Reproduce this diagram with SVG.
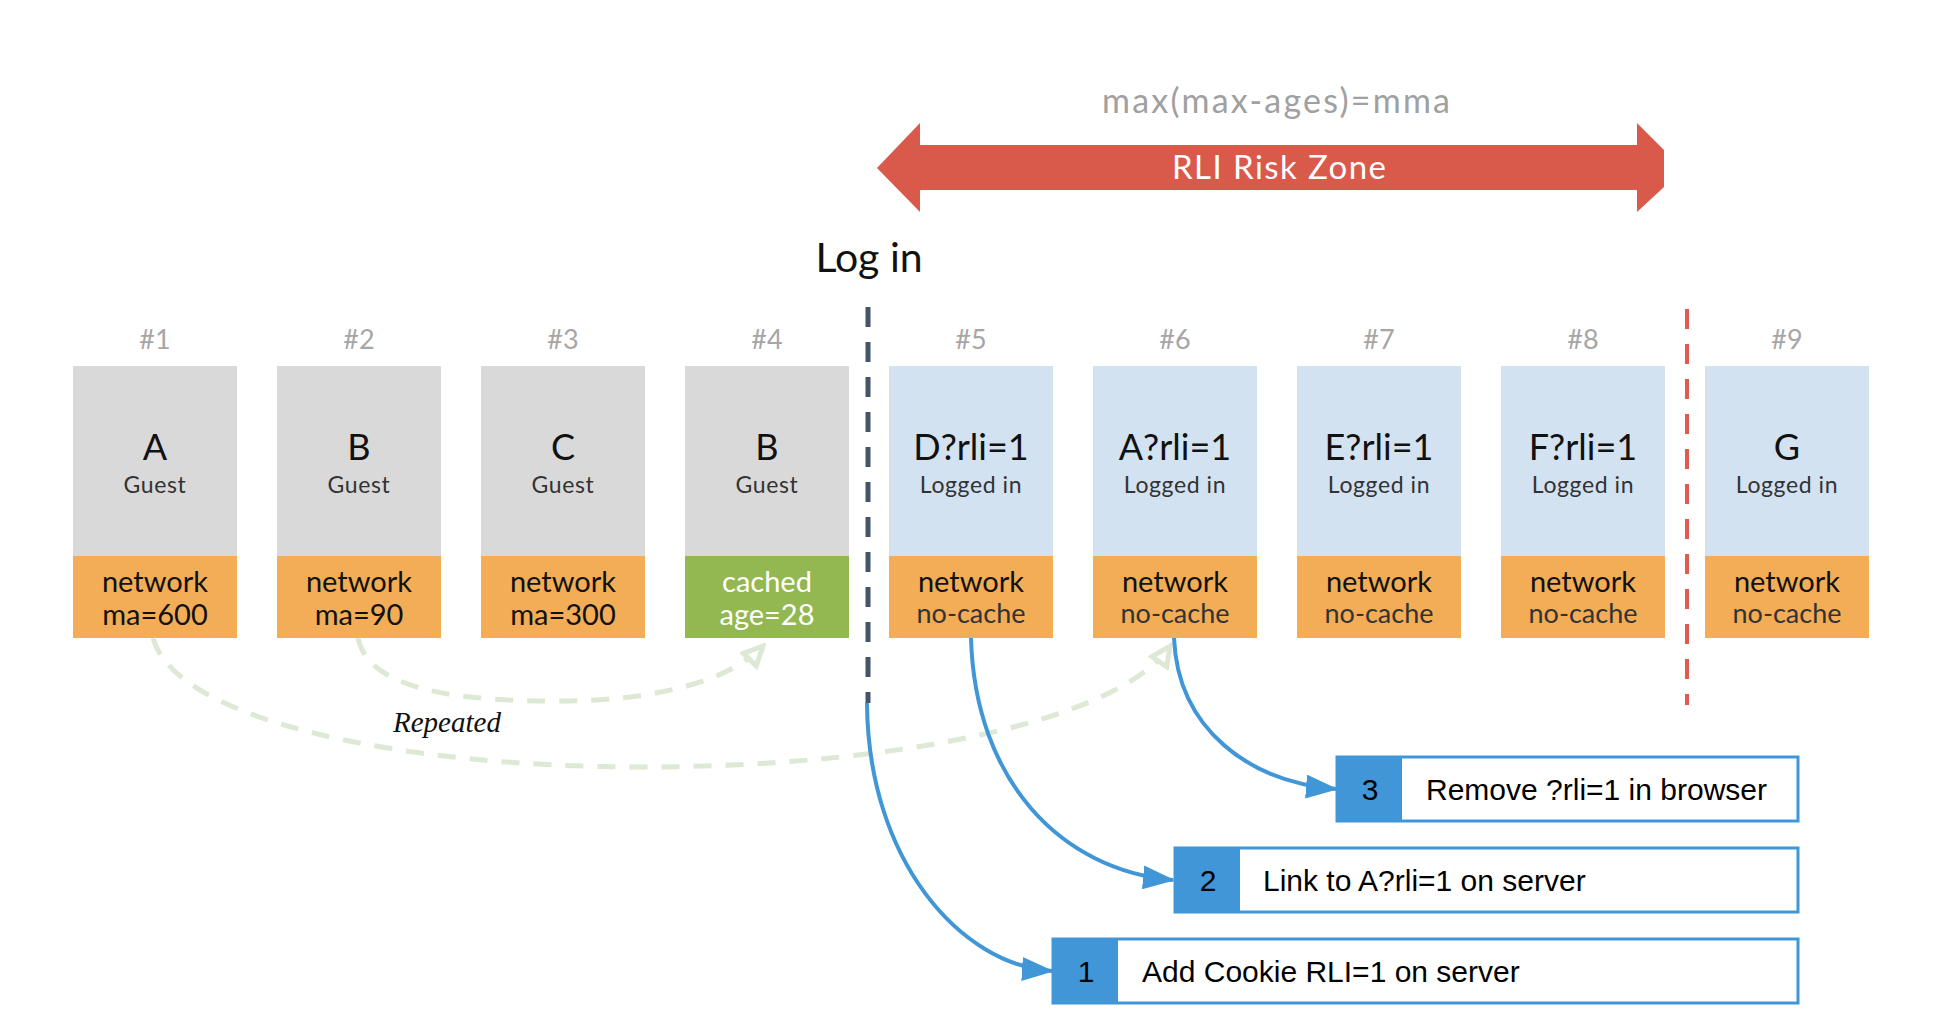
<svg xmlns="http://www.w3.org/2000/svg" width="1938" height="1036" viewBox="0 0 1938 1036">
<style>
.f{font-family:Lato,"Noto Sans","DejaVu Sans",sans-serif}
.num{font-family:Lato,"Noto Sans",sans-serif;font-size:27px;fill:#a6a6a6;text-anchor:middle}
.big{font-family:Lato,"Noto Sans",sans-serif;font-size:36px;fill:#111;text-anchor:middle}
.sub{font-family:Lato,"Noto Sans",sans-serif;font-size:23px;fill:#333;text-anchor:middle;letter-spacing:0.6px}
.net{font-family:Lato,"Noto Sans",sans-serif;font-size:29px;fill:#111;text-anchor:middle}
.nc{font-family:Lato,"Noto Sans",sans-serif;font-size:27px;fill:#333;text-anchor:middle}
.top-g{fill:#d9d9d9}
.top-b{fill:#d3e2f1}
.bot-o{fill:#f2ad56}
.bot-g{fill:#93b852}
.step{font-family:"Liberation Sans",Arial,sans-serif;font-size:30px;fill:#000}
.sbox{fill:#fff;stroke:#4096d6;stroke-width:3}
.snum{fill:#4096d6}
.blue{fill:none;stroke:#4096d6;stroke-width:4;marker-end:url(#ab)}
.green{fill:none;stroke:#dde8d5;stroke-width:5;stroke-dasharray:18 14;marker-end:url(#ag)}
</style>
<defs>
<marker id="ab" markerUnits="userSpaceOnUse" markerWidth="32" markerHeight="24" viewBox="0 0 32 24" refX="30" refY="12" orient="auto">
<path d="M0,0 L32,12 L0,24 z" fill="#4096d6"/>
</marker>
<marker id="ag" markerUnits="userSpaceOnUse" markerWidth="26" markerHeight="24" viewBox="0 0 26 24" refX="22" refY="12" orient="auto">
<path d="M3,3 L22,12 L3,21 z" fill="#fff" stroke="#dde8d5" stroke-width="5" stroke-linejoin="miter"/>
</marker>
</defs>

<g id="title">
<text class="f" x="1276" y="113" font-size="34" fill="#a0a0a0" text-anchor="middle" textLength="348">max(max-ages)=mma</text>
</g>
<g id="risk-zone">
<polygon points="877,168 920,123 920,145 1637,145 1637,123 1664,150 1664,187 1637,212 1637,190 920,190 920,212" fill="#d9594a"/>
<text class="f" x="1279" y="179" font-size="33" fill="#fff" text-anchor="middle" textLength="214">RLI Risk Zone</text>
</g>
<g id="login-label">
<text class="f" x="869" y="272" font-size="41" fill="#111" text-anchor="middle">Log in</text>
</g>

<g id="separators">
<line x1="868" y1="307" x2="868" y2="703" stroke="#44546a" stroke-width="5" stroke-dasharray="20 15"/>
<line x1="1687" y1="309" x2="1687" y2="705" stroke="#e05a4e" stroke-width="4" stroke-dasharray="20 15"/>
</g>

<g id="req1">
<text class="num" x="155" y="349">#1</text>
<rect class="top-g" x="73" y="366" width="164" height="190"/>
<rect class="bot-o" x="73" y="556" width="164" height="82"/>
<text class="big" x="155" y="460">A</text>
<text class="sub" x="155" y="493">Guest</text>
<text class="net" x="155" y="592">network</text>
<text class="net" x="155" y="625">ma=600</text>
</g>
<g id="req2">
<text class="num" x="359" y="349">#2</text>
<rect class="top-g" x="277" y="366" width="164" height="190"/>
<rect class="bot-o" x="277" y="556" width="164" height="82"/>
<text class="big" x="359" y="460">B</text>
<text class="sub" x="359" y="493">Guest</text>
<text class="net" x="359" y="592">network</text>
<text class="net" x="359" y="625">ma=90</text>
</g>
<g id="req3">
<text class="num" x="563" y="349">#3</text>
<rect class="top-g" x="481" y="366" width="164" height="190"/>
<rect class="bot-o" x="481" y="556" width="164" height="82"/>
<text class="big" x="563" y="460">C</text>
<text class="sub" x="563" y="493">Guest</text>
<text class="net" x="563" y="592">network</text>
<text class="net" x="563" y="625">ma=300</text>
</g>
<g id="req4">
<text class="num" x="767" y="349">#4</text>
<rect class="top-g" x="685" y="366" width="164" height="190"/>
<rect class="bot-g" x="685" y="556" width="164" height="82"/>
<text class="big" x="767" y="460">B</text>
<text class="sub" x="767" y="493">Guest</text>
<text class="net" x="767" y="592" style="fill:#fff">cached</text>
<text class="net" x="767" y="625" style="fill:#fff">age=28</text>
</g>
<g id="req5">
<text class="num" x="971" y="349">#5</text>
<rect class="top-b" x="889" y="366" width="164" height="190"/>
<rect class="bot-o" x="889" y="556" width="164" height="82"/>
<text class="big" x="971" y="460">D?rli=1</text>
<text class="sub" x="971" y="493">Logged in</text>
<text class="net" x="971" y="592">network</text>
<text class="nc" x="971" y="623">no-cache</text>
</g>
<g id="req6">
<text class="num" x="1175" y="349">#6</text>
<rect class="top-b" x="1093" y="366" width="164" height="190"/>
<rect class="bot-o" x="1093" y="556" width="164" height="82"/>
<text class="big" x="1175" y="460">A?rli=1</text>
<text class="sub" x="1175" y="493">Logged in</text>
<text class="net" x="1175" y="592">network</text>
<text class="nc" x="1175" y="623">no-cache</text>
</g>
<g id="req7">
<text class="num" x="1379" y="349">#7</text>
<rect class="top-b" x="1297" y="366" width="164" height="190"/>
<rect class="bot-o" x="1297" y="556" width="164" height="82"/>
<text class="big" x="1379" y="460">E?rli=1</text>
<text class="sub" x="1379" y="493">Logged in</text>
<text class="net" x="1379" y="592">network</text>
<text class="nc" x="1379" y="623">no-cache</text>
</g>
<g id="req8">
<text class="num" x="1583" y="349">#8</text>
<rect class="top-b" x="1501" y="366" width="164" height="190"/>
<rect class="bot-o" x="1501" y="556" width="164" height="82"/>
<text class="big" x="1583" y="460">F?rli=1</text>
<text class="sub" x="1583" y="493">Logged in</text>
<text class="net" x="1583" y="592">network</text>
<text class="nc" x="1583" y="623">no-cache</text>
</g>
<g id="req9">
<text class="num" x="1787" y="349">#9</text>
<rect class="top-b" x="1705" y="366" width="164" height="190"/>
<rect class="bot-o" x="1705" y="556" width="164" height="82"/>
<text class="big" x="1787" y="460">G</text>
<text class="sub" x="1787" y="493">Logged in</text>
<text class="net" x="1787" y="592">network</text>
<text class="nc" x="1787" y="623">no-cache</text>
</g>

<g id="connectors">
<path class="green" d="M153,638 C175,720 400,767 640,767 C900,767 1120,720 1170,646"/>
<path class="green" d="M358,638 C368,685 440,701 556,701 C660,701 730,680 763,646"/>
<path class="blue" d="M867,703 C868,860 960,965 1052,971"/>
<path class="blue" d="M971,638 C975,780 1060,870 1173,880"/>
<path class="blue" d="M1174,638 C1178,730 1250,782 1336,789"/>
</g>
<g id="repeated-label">
<text x="393" y="732" font-family="'Liberation Serif',serif" font-style="italic" font-size="29" fill="#111">Repeated</text>
</g>

<g id="step3">
<rect class="sbox" x="1337" y="757" width="461" height="64"/>
<rect class="snum" x="1337" y="757" width="65" height="64"/>
<text class="step" x="1370" y="800" text-anchor="middle">3</text>
<text class="step" x="1426" y="800">Remove ?rli=1 in browser</text>
</g>
<g id="step2">
<rect class="sbox" x="1175" y="848" width="623" height="64"/>
<rect class="snum" x="1175" y="848" width="65" height="64"/>
<text class="step" x="1208" y="891" text-anchor="middle">2</text>
<text class="step" x="1263" y="891">Link to A?rli=1 on server</text>
</g>
<g id="step1">
<rect class="sbox" x="1053" y="939" width="745" height="64"/>
<rect class="snum" x="1053" y="939" width="65" height="64"/>
<text class="step" x="1086" y="982" text-anchor="middle">1</text>
<text class="step" x="1142" y="982">Add Cookie RLI=1 on server</text>
</g>
</svg>
